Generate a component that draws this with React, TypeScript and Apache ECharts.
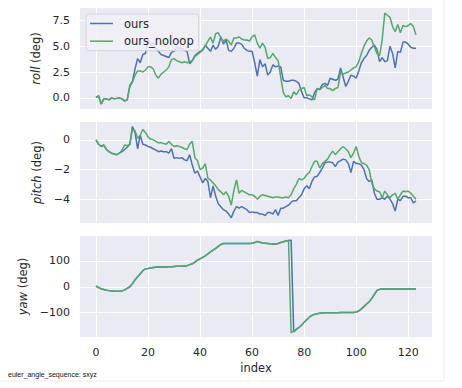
import React, { useEffect, useRef } from 'react';
import * as echarts from 'echarts';

const indexTicks = [0, 20, 40, 60, 80, 100, 120];
const rollTicks = [0, 2.5, 5, 7.5];
const pitchTicks = [-4, -2, 0];
const yawTicks = [-100, 0, 100];

const rollOurs = [
  0.05, 0.2, -0.6, -0.1, -0.1, -0.2, 0.0, -0.1, -0.05, 0.0,
  -0.1, -0.3, -0.2, 1.2, 1.6, 2.8, 3.8, 3.4, 4.2, 4.3,
  5.7, 5.1, 5.3, 4.8, 4.5, 4.2, 4.1, 4.0, 3.9, 4.4,
  4.5, 4.9, 4.8, 4.8, 4.6, 4.5, 3.3, 3.6, 4.1, 4.3,
  4.5, 4.6, 5.1, 4.8, 4.5, 5.1, 4.7, 5.0, 5.9, 5.2,
  5.6, 4.6, 4.5, 4.8, 5.3, 5.3, 5.2, 4.8, 4.6, 4.5,
  4.5, 3.4, 2.1, 3.7, 3.0, 3.3, 2.2, 2.5, 3.2, 3.0,
  3.1, 3.0, 1.7, 1.6, 1.6, 1.7, 1.7, 1.6, 1.4, 0.6,
  0.0, 0.0, -0.1, -0.2, 0.5, 0.9, 0.8, 1.3, 1.4, 1.2,
  1.9, 1.8, 1.7, 1.8, 2.9, 2.0, 1.1, 1.6, 2.2, 2.1,
  1.9, 2.6, 3.4, 3.8, 4.1, 4.6, 4.9, 5.1, 4.7, 3.5,
  3.9, 3.5, 3.6, 5.0, 4.3, 2.9, 4.5, 4.4, 5.4, 5.4,
  5.2, 4.9, 4.8, 4.8,
];

const rollNoloop = [
  0.05, 0.2, -0.6, -0.1, -0.1, -0.2, 0.0, -0.1, -0.05, 0.0,
  -0.1, -0.3, -0.2, 1.1, 1.5, 2.2, 2.6, 2.6, 2.5, 2.7,
  3.0, 3.0, 2.8, 2.2, 1.9, 2.3, 2.5, 2.7, 3.0, 3.7,
  3.8, 3.6, 3.5, 3.4, 3.5, 3.4, 3.5, 3.6, 4.0, 4.2,
  4.4, 4.7, 5.0, 5.5, 5.9, 5.3, 6.2, 6.3, 5.8, 5.5,
  5.7, 5.5, 5.1, 5.8, 5.8, 5.9, 5.7, 5.6, 5.6, 5.5,
  5.9, 6.1, 5.3, 4.8, 5.3, 4.9, 3.8, 3.9, 4.3, 3.9,
  3.6, 2.0, 0.5, 0.1, 0.2, -0.05, 0.6, 0.3, 0.75, 0.9,
  1.0, 0.2, 0.3, 0.1, -0.2, 0.9, 0.8, 1.0, 1.2, 0.9,
  0.9, 0.7, 0.9, 1.0, 2.5, 2.3, 2.4, 2.5, 2.7, 2.9,
  3.0, 3.5, 4.3, 5.0, 5.5, 5.8, 5.6, 4.9, 4.3, 4.1,
  5.6, 8.2, 8.0, 7.8, 6.9, 6.4, 7.1, 6.3, 7.0, 6.9,
  7.0, 7.2, 6.9, 6.1,
];

const pitchOurs = [
  0.0, -0.3, -0.45, -0.35, -0.65, -0.8, -0.9, -0.95, -1.0, -0.9,
  -0.8, -0.65, -0.5, -0.3, 0.9, 0.5, -0.6, 0.3, -0.3, -0.35,
  -0.45, -0.5, -0.6, -0.7, -0.8, -0.75, -0.8, -0.8, -0.9, -0.6,
  -1.25, -1.2, -1.25, -1.2, -1.35, -1.4, -1.0, -1.7, -2.25, -2.1,
  -2.5, -2.9, -2.6, -2.8, -3.9, -3.1, -3.8, -4.3, -4.5, -4.7,
  -4.8, -5.0, -5.25, -4.8, -4.5, -4.6, -4.5, -4.6, -4.7, -4.9,
  -4.85, -4.9, -4.9, -5.0, -5.0, -5.1, -4.9, -4.9, -5.0, -4.7,
  -5.1, -4.6, -4.6, -4.5, -4.4, -4.2, -4.1, -4.1, -3.9, -3.7,
  -3.3, -3.1, -3.3, -2.8, -2.5, -2.45, -2.2, -1.9, -1.55, -1.5,
  -1.5, -1.55, -1.8, -1.5, -1.4, -1.3, -1.35, -1.6, -2.2, -1.45,
  -1.6, -1.6, -1.7, -2.0, -2.6, -2.8, -2.7, -3.6, -4.0, -4.0,
  -3.9, -4.0, -3.8, -4.0, -4.3, -4.8, -4.0, -4.1, -3.8, -3.8,
  -3.9, -3.9, -4.25, -4.1,
];

const pitchNoloop = [
  0.0, -0.3, -0.45, -0.35, -0.65, -0.8, -0.9, -0.95, -1.0, -0.9,
  -0.7, -0.35, -0.4, -0.3, 0.7, 0.6, 0.1, 0.3, 0.7, 0.5,
  0.2, 0.05, 0.0, -0.1, -0.2, -0.2, -0.25, -0.3, -0.1, -0.3,
  -0.45, -0.4, -0.45, -0.5, -0.6, -0.65, -0.3, -0.1, -1.2, -1.4,
  -2.0, -1.9, -1.6, -2.6, -2.7, -2.9, -3.1, -3.35, -3.5, -3.7,
  -3.5, -3.8, -4.4, -3.4, -2.7, -3.6, -3.4, -3.5, -3.6, -3.7,
  -3.7, -3.8, -4.0, -3.8, -3.7, -3.75, -3.8, -3.85, -3.9, -3.85,
  -3.85, -3.9, -3.9, -3.85, -3.9, -3.7, -3.3, -3.0, -2.6, -2.7,
  -2.6, -2.35, -2.2, -1.8, -1.45, -1.45, -1.9, -1.6, -1.45, -1.3,
  -1.0, -0.76, -1.0, -0.8, -0.6, -0.45, -0.6, -0.8, -1.2, -0.9,
  -0.45, -1.1, -1.55, -1.6, -1.7, -2.0, -2.9, -3.3, -3.45, -3.5,
  -3.9, -3.45, -3.7, -3.9, -3.7, -3.6, -4.0, -3.7, -3.45, -3.5,
  -3.45, -3.6, -3.8, -4.0,
];

const yawOurs = [
  3, -3, -8, -11, -14, -15, -16, -17, -17, -17,
  -16, -12, -6, 0, 12, 27, 39, 50, 62, 70,
  71, 73, 75, 76, 77, 77, 77, 77, 78, 78,
  79, 80, 80, 80, 81, 82, 86, 89, 96, 103,
  108, 114, 120, 128, 135, 142, 149, 157, 164, 168,
  168, 168, 168, 168, 168, 168, 168, 168, 168, 168,
  169, 172, 176, 173, 170, 169, 168, 167, 166, 166,
  168, 172, 175, 178, 180, 181, -175, -165, -158, -149,
  -138, -128, -118, -111, -107, -105, -103, -102, -101, -101,
  -101, -101, -101, -101, -100, -100, -100, -100, -100, -100,
  -98, -94, -86, -77, -67, -58, -45, -30, -14, -10,
  -9, -9, -9, -9, -9, -9, -9, -9, -9, -9,
  -9, -9, -9, -9,
];

const yawNoloop = [
  3, -3, -8, -11, -14, -15, -16, -17, -17, -17,
  -16, -12, -6, 0, 12, 27, 39, 50, 62, 70,
  71, 73, 75, 76, 77, 77, 77, 77, 78, 78,
  79, 80, 80, 80, 81, 82, 86, 89, 96, 103,
  108, 114, 120, 128, 135, 142, 149, 157, 164, 168,
  168, 168, 168, 168, 168, 168, 168, 168, 168, 168,
  169, 172, 176, 173, 170, 169, 168, 167, 166, 166,
  168, 172, 175, 178, 180, -178, -171, -165, -158, -149,
  -138, -128, -118, -111, -107, -105, -103, -102, -101, -101,
  -101, -101, -101, -101, -100, -100, -100, -100, -100, -100,
  -98, -94, -86, -77, -67, -58, -45, -30, -14, -10,
  -9, -9, -9, -9, -9, -9, -9, -9, -9, -9,
  -9, -9, -9, -9,
];

const BLUE = '#4C72B0';
const GREEN = '#55A868';
const TXT = '#262626';
const FONT = 'DejaVu Sans';

const minus = (s: string) => s.replace('-', '\u2212');

function xAxis(gridIndex: number, labels: boolean) {
  return {
    type: 'value',
    gridIndex,
    min: -6.15,
    max: 129.15,
    axisLine: { show: false },
    axisTick: { show: false, customValues: indexTicks },
    axisLabel: {
      show: labels,
      customValues: indexTicks,
      margin: 10,
      fontSize: 11,
      color: TXT,
      fontFamily: FONT,
    },
    splitLine: { show: true, lineStyle: { color: '#ffffff', width: 1 } },
    name: labels ? 'index' : '',
    nameLocation: 'middle',
    nameGap: 25,
    nameTextStyle: { fontSize: 11.5, color: TXT, fontFamily: FONT },
  };
}

function yAxis(gridIndex: number, min: number, max: number, ticks: number[], name: string, gap: number, fmt: (v: number) => string) {
  return {
    type: 'value',
    gridIndex,
    min,
    max,
    axisLine: { show: false },
    axisTick: { show: false, customValues: ticks },
    axisLabel: {
      customValues: ticks,
      margin: 10,
      fontSize: 11,
      color: TXT,
      fontFamily: FONT,
      formatter: fmt,
    },
    splitLine: { show: true, lineStyle: { color: '#ffffff', width: 1 } },
    name: '{i|' + name + '} (deg)',
    nameLocation: 'middle',
    nameGap: gap,
    nameTextStyle: {
      fontSize: 11.5,
      color: TXT,
      fontFamily: FONT,
      rich: { i: { fontStyle: 'italic', fontSize: 11.5, color: TXT, fontFamily: FONT } },
    },
  };
}

function line(name: string, color: string, xi: number, data: number[]) {
  return {
    type: 'line',
    name,
    xAxisIndex: xi,
    yAxisIndex: xi,
    data: data.map((v, i) => [i, v]),
    symbol: 'none',
    showSymbol: false,
    lineStyle: { color, width: 1.5 },
    itemStyle: { color },
  };
}

export default function App() {
  const ref = useRef<HTMLDivElement>(null);
  useEffect(() => {
    const chart = echarts.init(ref.current!, null, { renderer: 'svg' });
    const grid = (top: number) => ({
      left: 80,
      top,
      width: 352,
      height: 101,
      show: true,
      backgroundColor: '#EAEAF2',
      borderWidth: 0,
      containLabel: false,
    });
    chart.setOption({
      animation: false,
      backgroundColor: '#ffffff',
      grid: [grid(8), grid(122), grid(236)],
      xAxis: [xAxis(0, false), xAxis(1, false), xAxis(2, true)],
      yAxis: [
        yAxis(0, -1.08, 8.7, rollTicks, 'roll', 34, (v) => minus(v.toFixed(1))),
        yAxis(1, -5.6, 1.2, pitchTicks, 'pitch', 33, (v) => minus(String(v))),
        yAxis(2, -195, 197, yawTicks, 'yaw', 47, (v) => minus(String(v))),
      ],
      legend: {
        data: [{ name: 'ours' }, { name: 'ours_noloop' }],
        orient: 'vertical',
        left: 86,
        top: 14,
        icon: 'rect',
        itemWidth: 23,
        itemHeight: 1.5,
        itemGap: 4.7,
        padding: [3, 5, 3, 4],
        backgroundColor: 'rgba(240,240,246,0.85)',
        borderColor: '#d4d4d8',
        borderWidth: 1,
        borderRadius: 3,
        selectedMode: false,
        textStyle: { fontSize: 11.5, color: TXT, fontFamily: FONT, lineHeight: 13, padding: [0, 0, 0, 6] },
      },
      graphic: [
        {
          type: 'text',
          left: 8,
          top: 371,
          style: { text: 'euler_angle_sequence: sxyz', fontSize: 7, fontFamily: 'Liberation Sans', fill: '#111' },
        },
        { type: 'line', shape: { x1: 444, y1: 0, x2: 444, y2: 381 }, style: { stroke: '#ececec', lineWidth: 1 } },
        { type: 'line', shape: { x1: 0, y1: 381, x2: 444, y2: 381 }, style: { stroke: '#ececec', lineWidth: 1 } },
      ],
      series: [
        line('ours', BLUE, 0, rollOurs),
        line('ours_noloop', GREEN, 0, rollNoloop),
        line('ours', BLUE, 1, pitchOurs),
        line('ours_noloop', GREEN, 1, pitchNoloop),
        line('ours', BLUE, 2, yawOurs),
        line('ours_noloop', GREEN, 2, yawNoloop),
      ],
    });
    return () => chart.dispose();
  }, []);
  return (
    <div
      ref={ref}
      style={{ position: 'absolute', left: 0, top: 0, width: 462, height: 388, background: '#fff' }}
    />
  );
}
